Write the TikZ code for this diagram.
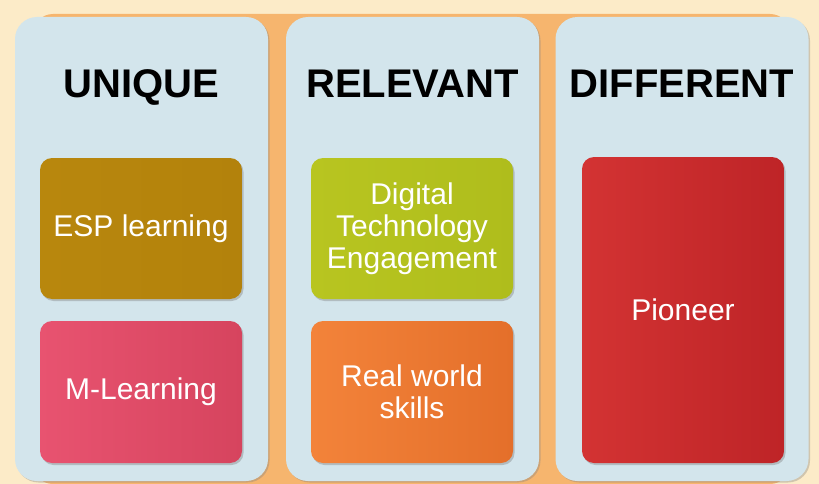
\documentclass[tikz,border=0pt]{standalone}
\usepackage{fontspec}
\setmainfont{Liberation Sans}
\usetikzlibrary{shadows}
\definecolor{cream}{HTML}{FCEBC8}
\definecolor{band}{HTML}{F6B56E}
\definecolor{colblue}{HTML}{D3E5EC}
\definecolor{espL}{HTML}{B8870D}
\definecolor{espR}{HTML}{B3820C}
\definecolor{mlL}{HTML}{E85370}
\definecolor{mlR}{HTML}{D6445E}
\definecolor{digL}{HTML}{B8C520}
\definecolor{digR}{HTML}{AFBD1C}
\definecolor{realL}{HTML}{F3833A}
\definecolor{realR}{HTML}{E46F2A}
\definecolor{pioL}{HTML}{D33333}
\definecolor{pioR}{HTML}{BE2427}
\tikzset{
  column/.style = {
    fill=colblue, rounded corners=22pt, inner sep=0pt,
    minimum width=253pt, minimum height=464pt,
    drop shadow={opacity=0.35, shadow xshift=1.5pt, shadow yshift=-1.5pt}
  },
  heading/.style = {anchor=base, font=\bfseries\fontsize{40}{48}\selectfont},
  card/.style = {
    rounded corners=12pt, inner sep=0pt, text=white, align=center,
    minimum width=202pt, minimum height=141pt,
    font=\fontsize{30}{32}\selectfont,
    drop shadow={opacity=0.4, shadow xshift=1.5pt, shadow yshift=-2pt}
  }
}

\begin{document}
\begin{tikzpicture}[x=1pt,y=-1pt]
  \useasboundingbox (0,0) rectangle (819,484);
  % background
  \fill[cream] (0,0) rectangle (819,484);
  \fill[band,rounded corners=20pt] (33,484) |- (790,14) -- (790,484) -- cycle;
  % columns
  \node[column] (unique)    at (141.5,249) {};
  \node[column] (relevant)  at (412.5,249) {};
  \node[column] (different) at (682,249)   {};
  \node[heading] (uniquetitle)    at (141.5,98) {UNIQUE};
  \node[heading] (relevanttitle)  at (412.5,98) {RELEVANT};
  \node[heading] (differenttitle) at (682,98)   {DIFFERENT};
  % cards
  \node[card,left color=espL,right color=espR] (esp) at (141,228.5) {ESP learning};
  \node[card,left color=mlL,right color=mlR,minimum height=142pt] (mlearning) at (141,392) {M-Learning};
  \node[card,left color=digL,right color=digR] (digital) at (412,228.5) {Digital\\Technology\\Engagement};
  \node[card,left color=realL,right color=realR,minimum height=142pt] (skills) at (412,392) {Real world\\skills};
  \node[card,left color=pioL,right color=pioR,minimum height=306pt] (pioneer) at (683,310) {Pioneer};
\end{tikzpicture}
\end{document}
